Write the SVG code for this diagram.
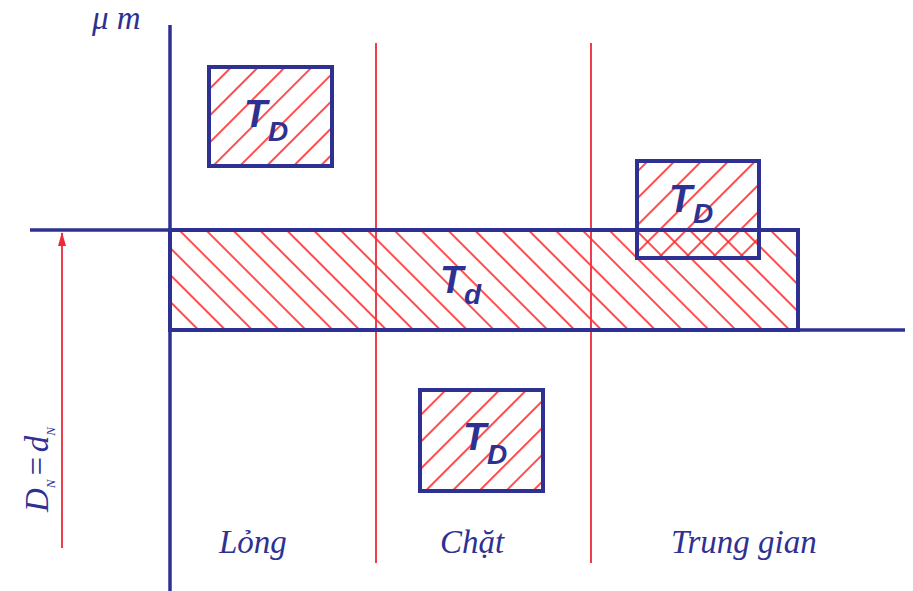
<svg xmlns="http://www.w3.org/2000/svg" width="913" height="591" viewBox="0 0 913 591">
<style>
.ax{stroke:#2e3192;stroke-width:3.5;fill:none}
.box{stroke:#2e3192;stroke-width:4;}
.rl{stroke:#ee2a3a;stroke-width:1.8;fill:none}
.h{stroke:#ff2e2e;stroke-width:1.7}
.tt{font-family:"Liberation Sans",Arial,sans-serif;font-style:italic;fill:#2e3192;font-weight:bold}
.lb{font-family:"Liberation Serif","Times New Roman",serif;font-style:italic;fill:#2e3192;font-size:33px}
</style>
<defs>
<pattern id="hf" width="19" height="19" patternUnits="userSpaceOnUse" patternTransform="rotate(45)">
<line class="h" x1="2" y1="0" x2="2" y2="19"/>
</pattern>
<pattern id="hb" width="19" height="19" patternUnits="userSpaceOnUse" patternTransform="rotate(-45)">
<line class="h" x1="2" y1="0" x2="2" y2="19"/>
</pattern>
<marker id="ar" viewBox="0 0 14 10" refX="13" refY="5" markerWidth="14" markerHeight="10" markerUnits="userSpaceOnUse" orient="auto">
<path d="M0,1 L14,5 L0,9 Z" fill="#ee2a3a"/>
</marker>
</defs>
<rect width="913" height="591" fill="#fff"/>
<g id="connectors">
<line class="rl" x1="376" y1="43" x2="376" y2="563"/>
<line class="rl" x1="591" y1="43" x2="591" y2="563"/>
<line class="rl" x1="62" y1="548" x2="62" y2="233" marker-end="url(#ar)"/>
</g>
<g id="Td">
<rect x="170" y="230" width="628" height="100" fill="url(#hb)" class="box"/>
<text class="tt" x="440" y="293" font-size="38">T</text>
<text class="tt" x="464" y="304" font-size="28">d</text>
</g>
<g id="TD1">
<rect x="209" y="67" width="123" height="99" fill="url(#hf)" class="box"/>
<text class="tt" x="244" y="127" font-size="38">T</text>
<text class="tt" x="268" y="141" font-size="28">D</text>
</g>
<g id="TD2">
<rect x="637" y="161" width="122" height="97" fill="url(#hf)" class="box"/>
<text class="tt" x="669" y="212" font-size="38">T</text>
<text class="tt" x="693" y="223" font-size="28">D</text>
</g>
<g id="TD3">
<rect x="420" y="390" width="123" height="101" fill="url(#hf)" class="box"/>
<text class="tt" x="463" y="450" font-size="38">T</text>
<text class="tt" x="487" y="464" font-size="28">D</text>
</g>
<g id="axes">
<line class="ax" x1="170" y1="25" x2="170" y2="591"/>
<line class="ax" x1="30" y1="230" x2="798" y2="230"/>
<line class="ax" x1="170" y1="330" x2="905" y2="330"/>
</g>
<g id="labels">
<text class="lb" x="92" y="29" font-size="30">μ m</text>
<text class="lb" transform="translate(48,512) rotate(-90)" font-size="36">D<tspan font-size="13" dy="7">N</tspan><tspan dy="-7" dx="2">=</tspan><tspan dx="3">d</tspan><tspan font-size="13" dy="7">N</tspan></text>
<text class="lb" x="219" y="553">Lỏng</text>
<text class="lb" x="440" y="553">Chặt</text>
<text class="lb" x="671" y="553">Trung gian</text>
</g>
</svg>
